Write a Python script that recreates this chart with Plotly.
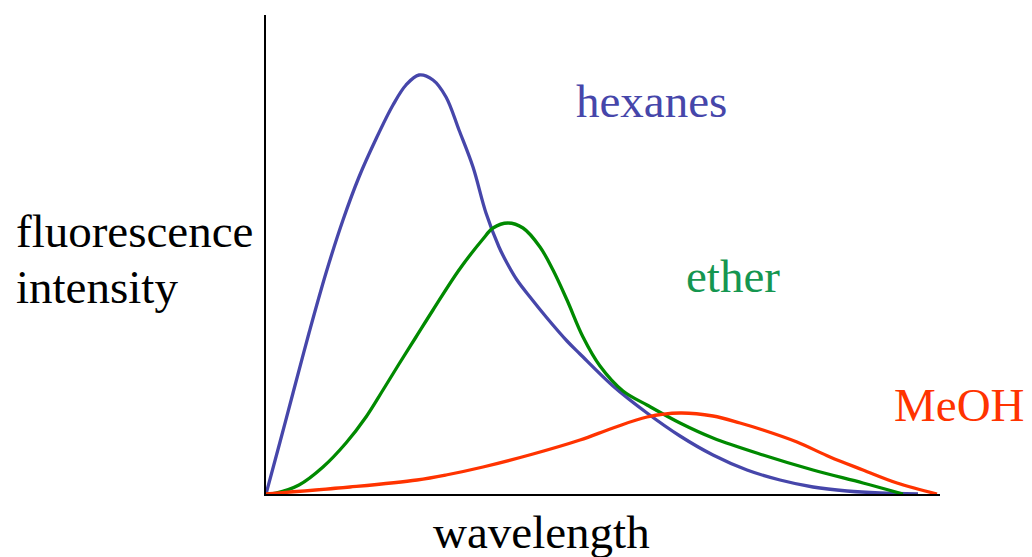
import plotly.graph_objects as go

# wavelength (arbitrary units) / intensity (arbitrary units)
hexanes_x = [0, 14, 27, 43, 60, 77, 93, 110, 127, 140, 153, 167, 180, 193, 207, 220, 233, 241, 251, 264, 281, 301, 314, 347, 381, 414, 447, 481, 514, 547, 581, 614, 652]
hexanes_y = [0, 52, 101, 161, 221, 274, 317, 355, 389, 409, 419, 414, 397, 364, 327, 281, 247, 231, 214, 197, 176, 153, 140, 108, 81, 58, 39, 24, 14, 7, 3, 1, 0]

ether_x = [0, 10, 33, 57, 80, 100, 117, 133, 150, 167, 193, 217, 227, 242, 257, 274, 287, 301, 317, 334, 357, 381, 414, 447, 497, 547, 597, 637]
ether_y = [0, 1, 9, 27, 51, 77, 104, 130, 157, 184, 224, 255, 266, 271, 266, 247, 224, 194, 157, 128, 103, 89, 71, 56, 39, 24, 11, 0]

meoh_x = [0, 84, 151, 180, 217, 267, 314, 347, 381, 414, 447, 474, 497, 531, 564, 597, 631, 671]
meoh_y = [0, 7, 14, 19, 27, 40, 54, 66, 77, 81, 78, 71, 64, 52, 37, 24, 11, 0]

BLUE = "#4646AA"
GREEN = "#008A00"
GREEN_TXT = "#159650"
RED = "#FF3300"
FONT = "Liberation Serif"

fig = go.Figure()
for xs, ys, c in [(hexanes_x, hexanes_y, BLUE), (ether_x, ether_y, GREEN), (meoh_x, meoh_y, RED)]:
    fig.add_trace(go.Scatter(x=xs, y=ys, mode="lines", cliponaxis=False, hoverinfo="skip",
                             line=dict(color=c, width=3.3, shape="spline", smoothing=1.0)))

L, R, T, B = 266, 940, 15, 494
W, H = 1032, 557


def px(x):
    return (x - L) / (R - L)


def py(y):
    return (B - y) / (B - T)


def ann(text, x, y, color, xanchor="center"):
    fig.add_annotation(text=text, x=px(x), y=py(y), xref="paper", yref="paper",
                       showarrow=False, xanchor=xanchor, yanchor="middle",
                       font=dict(family=FONT, size=47, color=color))


ann("hexanes", 651, 101, BLUE)
ann("ether", 733, 276, GREEN_TXT)
ann("MeOH", 960, 405, RED)
ann("fluorescence", 14, 231, "black", xanchor="left")
ann("intensity", 14, 287, "black", xanchor="left")
ann("wavelength", 541, 532, "black")

fig.update_xaxes(range=[0, R - L], showline=True, linecolor="black", linewidth=2,
                 showticklabels=False, ticks="", showgrid=False, zeroline=False)
fig.update_yaxes(range=[0, B - T], showline=True, linecolor="black", linewidth=2,
                 showticklabels=False, ticks="", showgrid=False, zeroline=False)

fig.update_layout(width=W, height=H, showlegend=False,
                  margin=dict(l=L, r=W - R, t=T, b=H - B),
                  plot_bgcolor="white", paper_bgcolor="white")

fig.write_html("out.html", config={"displayModeBar": False},
               post_script="document.body.style.margin='0';document.body.style.overflow='hidden';")
